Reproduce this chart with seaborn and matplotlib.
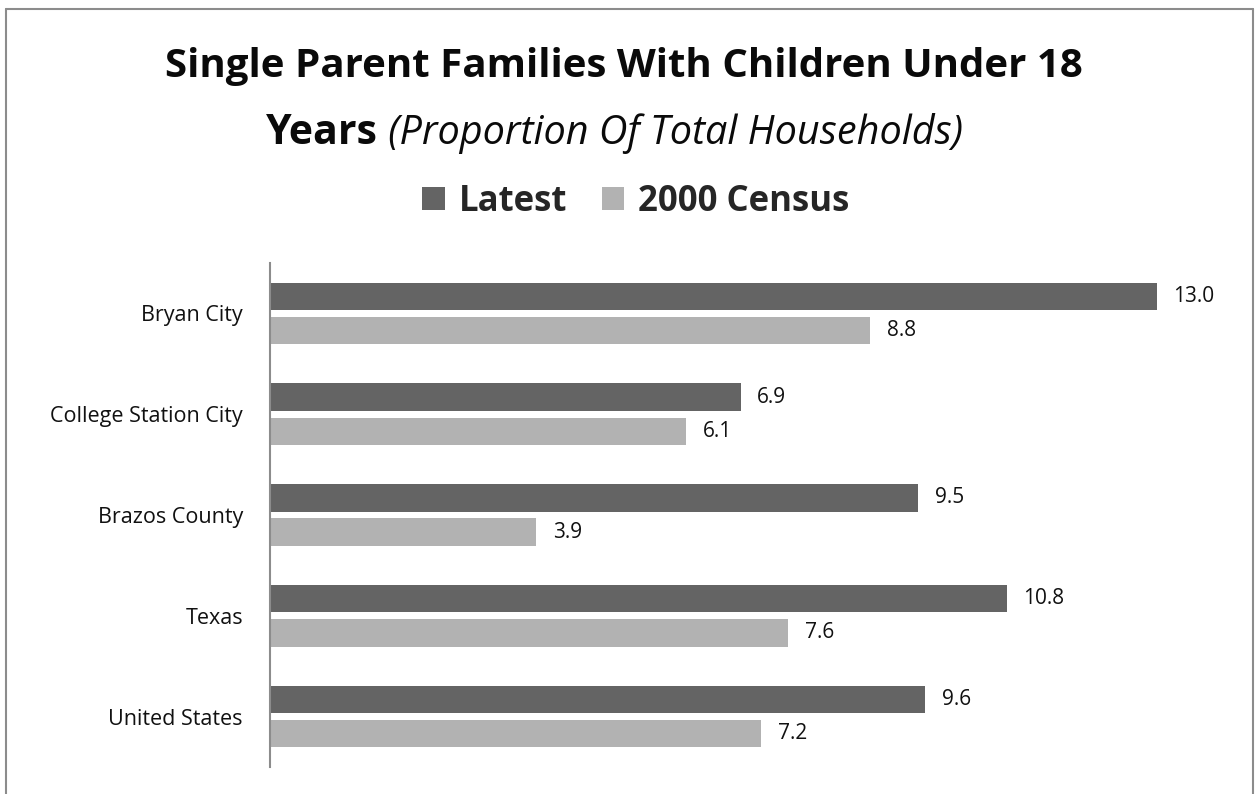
import matplotlib
matplotlib.use("Agg")
import matplotlib.pyplot as plt
from matplotlib.lines import Line2D
from matplotlib.patches import Patch
import seaborn as sns
import pandas as pd

# Data
places = ["Bryan City", "College Station City", "Brazos County", "Texas", "United States"]
latest = [13.0, 6.9, 9.5, 10.8, 9.6]
census_2000 = [8.8, 6.1, 3.9, 7.6, 7.2]
series_names = ["Latest", "2000 Census"]
series_colors = ["#646464", "#b2b2b2"]

df = pd.DataFrame({
    "place": places * 2,
    "value": latest + census_2000,
    "series": [series_names[0]] * len(places) + [series_names[1]] * len(places),
})

sns.set_theme(style="white")
plt.rcParams["font.family"] = ["Open Sans", "DejaVu Sans"]

W, H = 1255, 794
fig = plt.figure(figsize=(W / 100, H / 100), dpi=100)
ax = fig.add_axes([270 / W, 1 - 767 / H, 955 / W, 504 / H])

sns.barplot(
    data=df, y="place", x="value", hue="series", order=places,
    hue_order=series_names, palette=series_colors, orient="h",
    width=0.68, gap=0.2, ax=ax, legend=False, saturation=1,
    edgecolor="none",
)

ax.set_xlim(0, 14)
ax.set_ylim(len(places) - 0.5, -0.5)
ax.set_xlabel("")
ax.set_ylabel("")
ax.set_xticks([])
for side in ("top", "right", "bottom"):
    ax.spines[side].set_visible(False)
ax.spines["left"].set_color("#8c8c8c")
ax.spines["left"].set_linewidth(1.5)
ax.tick_params(axis="y", length=0, pad=19.5, labelsize=15.5)
for lbl in ax.get_yticklabels():
    lbl.set_color("#111111")

# Value labels at the end of each bar
for container in ax.containers:
    ax.bar_label(container, fmt="%.1f", padding=12, fontsize=15, color="#111111",
                 label_type="edge")

# Title (two lines, second mixes bold and italic)
fig.text(0.497, 1 - 67 / H, "Single Parent Families With Children Under 18",
         ha="center", va="center", fontsize=29, fontweight="bold", color="#0a0a0a")
t_bold = fig.text(0, 1 - 134 / H, "Years", ha="left", va="center",
                  fontsize=29.5, fontweight="bold", color="#0a0a0a")
t_ital = fig.text(0, 1 - 134 / H, " (Proportion Of Total Households)", ha="left",
                  va="center", fontsize=28.5, fontstyle="italic", color="#0a0a0a")
fig.canvas.draw()
r = fig.canvas.get_renderer()
wb = t_bold.get_window_extent(r).width
wi = t_ital.get_window_extent(r).width
x0 = 614 - (wb + wi) / 2
t_bold.set_x(x0 / W)
t_ital.set_x((x0 + wb) / W)

# Legend
handles = [Patch(facecolor=c, edgecolor="none") for c in series_colors]
fig.legend(handles, series_names, loc="center", bbox_to_anchor=(636 / W, 1 - 202 / H),
           ncol=2, frameon=False, prop={"weight": "bold", "size": 25},
           handlelength=0.65, handleheight=0.65, handletextpad=0.4, columnspacing=1.0)

# Outer frame
frame_kw = dict(color="#8c8c8c", linewidth=1.5, transform=fig.transFigure)
fig.add_artist(Line2D([6 / W, 6 / W], [0, 1 - 9 / H], **frame_kw))
fig.add_artist(Line2D([6 / W, 1253 / W], [1 - 9 / H, 1 - 9 / H], **frame_kw))
fig.add_artist(Line2D([1253 / W, 1253 / W], [0, 1 - 9 / H], **frame_kw))

fig.savefig("out.png", dpi=100)
